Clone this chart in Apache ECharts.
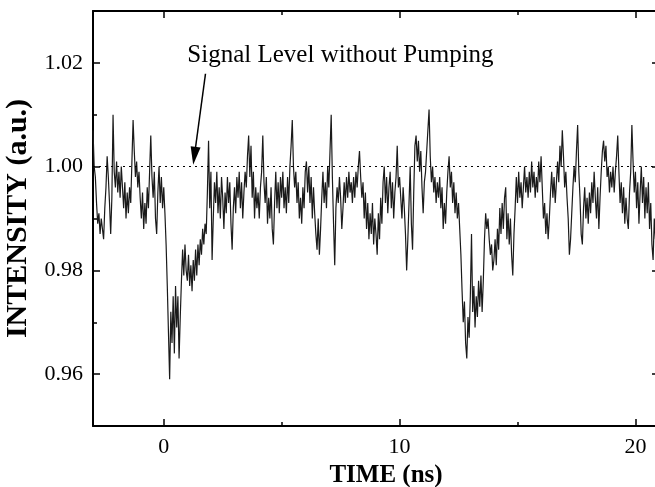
<!DOCTYPE html>
<html>
<head>
<meta charset="utf-8">
<script src="https://cdn.jsdelivr.net/npm/echarts@6/dist/echarts.min.js"></script>
<style>html,body{margin:0;padding:0;background:#fff}#c{width:655px;height:487px}</style>
</head>
<body>
<div id="c"></div>
<script>
// ---- data ----
const timeStart = -3.0;   // ns
const timeStep = 0.05;    // ns sampling
const intensity = [
1.007,1.000,0.998,0.993,0.989,0.991,0.987,0.990,0.988,0.986,0.992,0.996,1.002,0.998,0.993,0.987,0.994,1.010,0.999,0.996,
1.001,0.995,0.999,0.994,1.000,0.996,0.992,0.997,0.990,0.995,0.991,0.996,0.993,1.001,1.009,1.003,0.998,1.001,0.996,0.999,
0.994,0.990,0.995,0.988,0.993,0.989,0.996,0.992,0.999,1.006,0.998,0.994,0.999,0.990,0.987,0.995,1.000,0.993,0.998,0.992,
0.996,0.991,0.985,0.977,0.968,0.959,0.972,0.966,0.975,0.964,0.977,0.969,0.975,0.963,0.971,0.978,0.984,0.979,0.985,0.980,
0.978,0.983,0.977,0.981,0.976,0.982,0.978,0.984,0.979,0.985,0.981,0.986,0.983,0.988,0.985,0.989,0.987,0.995,1.005,0.992,
0.999,0.982,0.990,0.997,0.993,0.999,0.991,0.996,0.990,0.998,0.994,0.988,0.995,0.991,0.998,0.993,0.997,0.989,0.984,0.992,
0.996,0.991,0.998,0.994,0.999,0.992,0.997,0.990,0.995,0.999,0.996,1.002,1.006,0.998,1.004,0.994,0.999,0.990,0.996,0.992,
0.995,0.990,0.996,0.999,1.006,0.997,0.993,0.998,0.989,0.994,0.990,0.996,0.988,0.985,0.993,0.999,0.992,0.997,0.991,0.998,
0.994,0.999,0.992,0.996,0.991,0.998,0.993,1.000,1.004,1.009,1.000,0.996,0.999,0.993,0.997,0.990,0.994,0.989,0.996,0.992,
0.999,1.001,0.995,1.000,0.993,0.998,0.990,0.996,0.991,0.987,0.984,0.990,0.983,0.988,0.994,0.999,0.993,0.997,0.992,1.000,
0.996,1.003,1.010,0.998,0.989,0.981,0.992,0.996,0.993,0.998,0.994,0.988,0.992,0.997,0.993,0.998,0.994,0.999,0.995,0.997,
0.993,0.998,0.994,0.999,0.996,1.000,1.003,0.998,0.994,0.997,0.990,0.995,0.988,0.993,0.986,0.991,0.987,0.993,0.985,0.990,
0.987,0.983,0.991,0.986,0.994,0.989,0.997,1.000,0.993,0.998,0.991,0.996,0.999,0.992,0.997,0.990,0.995,0.998,1.004,0.996,
0.998,0.994,0.990,0.996,0.992,0.987,0.980,0.986,0.993,1.000,0.989,0.984,0.995,1.004,1.006,1.001,1.005,0.999,1.003,0.996,
0.991,0.997,0.999,1.003,1.007,1.011,1.002,0.997,1.000,0.995,0.998,0.993,0.997,0.994,0.998,0.992,0.996,0.988,0.993,0.989,
0.995,0.999,1.002,0.996,0.999,0.993,0.997,0.991,0.995,0.990,0.993,0.988,0.983,0.976,0.970,0.974,0.966,0.963,0.971,0.967,
0.975,0.987,0.972,0.977,0.969,0.975,0.971,0.978,0.973,0.979,0.972,0.978,0.986,0.991,0.988,0.990,0.986,0.983,0.985,0.980,
0.982,0.986,0.981,0.988,0.984,0.992,0.987,0.993,0.988,0.994,0.996,0.986,0.991,0.985,0.990,0.983,0.979,0.987,0.992,0.998,
0.993,0.999,0.994,0.997,0.992,0.996,1.000,0.995,0.998,0.994,0.999,0.995,1.001,0.996,0.999,0.994,0.998,0.995,1.001,0.997,
1.002,0.996,0.990,0.993,0.987,0.991,0.986,0.990,0.995,0.999,0.994,0.998,0.993,0.997,1.001,0.997,1.004,1.000,1.007,1.002,
0.996,0.999,0.994,0.990,0.983,0.986,0.991,0.996,1.000,0.997,1.003,1.008,0.999,0.994,0.987,0.985,0.992,0.996,0.990,0.994,
0.989,0.995,0.991,0.997,0.993,0.999,0.994,0.990,0.996,0.988,0.994,0.999,1.003,1.005,1.001,1.004,0.998,1.000,0.995,0.999,
0.996,1.000,0.995,0.999,1.002,1.006,0.999,0.993,0.997,0.991,0.996,0.989,0.994,0.990,0.988,0.995,0.999,1.008,1.001,0.995,
0.999,0.992,0.997,0.989,0.995,1.000,0.993,0.998,0.990,0.996,0.991,0.997,0.988,0.993,0.985,0.982,0.990,0.986,0.992,0.988
];
const referenceLevel = 1.00;
const xMajorTicks = [0, 10, 20];
const xMinorTicks = [5, 15];
const yMajorTicks = [0.96, 0.98, 1.00, 1.02];
const yMinorTicks = [0.97, 0.99, 1.01];
const xRange = [-3, 21];
const yRange = [0.95, 1.03];
const annotationText = 'Signal Level without Pumping';
const annotationTextPos = [1.0, 1.0214];
const arrowFrom = [1.77, 1.0179];
const arrowTo = [1.30, 1.0021];

// ---- build ----
const seriesData = intensity.map((v, i) => [timeStart + i * timeStep, v]);
const FONT = '"Liberation Serif","Times New Roman",serif';
const lineStyle = {color: '#000', width: 2};

function xAx(pos, ticks, len, labels, line) {
  return {
    type: 'value', position: pos, min: xRange[0], max: xRange[1],
    axisLine: {show: line, onZero: false, lineStyle},
    axisTick: {show: true, inside: true, length: len, customValues: ticks, lineStyle: {color: '#000', width: 1.5}},
    axisLabel: labels ? {show: true, customValues: ticks, margin: 10, color: '#000', fontFamily: FONT, fontSize: 22} : {show: false},
    splitLine: {show: false}
  };
}
function yAx(pos, ticks, len, labels, line) {
  return {
    type: 'value', position: pos, min: yRange[0], max: yRange[1],
    axisLine: {show: line, onZero: false, lineStyle},
    axisTick: {show: true, inside: true, length: len, customValues: ticks, lineStyle: {color: '#000', width: 1.5}},
    axisLabel: labels ? {show: true, customValues: ticks, margin: 10, color: '#000', fontFamily: FONT, fontSize: 22,
      formatter: v => v.toFixed(2)} : {show: false},
    splitLine: {show: false}
  };
}

const xAxes = [
  xAx('bottom', xMajorTicks, 7, true, true),
  xAx('bottom', xMinorTicks, 4, false, false),
  xAx('top', xMajorTicks, 7, false, true),
  xAx('top', xMinorTicks, 4, false, false)
];
Object.assign(xAxes[0], {name: 'TIME (ns)', nameLocation: 'middle', nameGap: 34,
  nameTextStyle: {fontFamily: FONT, fontSize: 25, fontWeight: 'bold', color: '#000', padding: [0, 0, 0, 20]}});
const yAxes = [
  yAx('left', yMajorTicks, 7, true, true),
  yAx('left', yMinorTicks, 4, false, false),
  yAx('right', yMajorTicks, 7, false, true),
  yAx('right', yMinorTicks, 4, false, false)
];
Object.assign(yAxes[0], {name: 'INTENSITY (a.u.)', nameLocation: 'middle', nameGap: 60,
  nameTextStyle: {fontFamily: FONT, fontSize: 30, fontWeight: 'bold', color: '#000'}});

const chart = echarts.init(document.getElementById('c'), null, {renderer: 'canvas'});
chart.setOption({
  animation: false,
  backgroundColor: '#fff',
  grid: {left: 93, top: 11, right: -4, bottom: 61, containLabel: false, outerBoundsMode: 'none'},
  xAxis: xAxes,
  yAxis: yAxes,
  series: [{
    type: 'line', xAxisIndex: 0, yAxisIndex: 0,
    data: seriesData, showSymbol: false, symbol: 'none',
    lineStyle: {color: '#1a1a1a', width: 1.2},
    silent: true,
    markLine: {
      silent: true, symbol: ['none', 'none'], animation: false,
      label: {show: false},
      data: [
        [{coord: [xRange[0], referenceLevel], lineStyle: {type: [2, 4], color: '#000', width: 1}},
         {coord: [xRange[1], referenceLevel]}],
        [{coord: arrowFrom, symbol: 'none', lineStyle: {type: 'solid', color: '#000', width: 1.5}},
         {coord: arrowTo, symbol: 'triangle', symbolSize: [10, 18]}]
      ]
    },
    markPoint: {
      silent: true, symbol: 'circle', symbolSize: 0,
      data: [{coord: annotationTextPos, value: annotationText}],
      label: {show: true, position: 'right', distance: 0, formatter: annotationText,
        color: '#000', fontFamily: FONT, fontSize: 25}
    }
  }]
});
</script>
</body>
</html>
